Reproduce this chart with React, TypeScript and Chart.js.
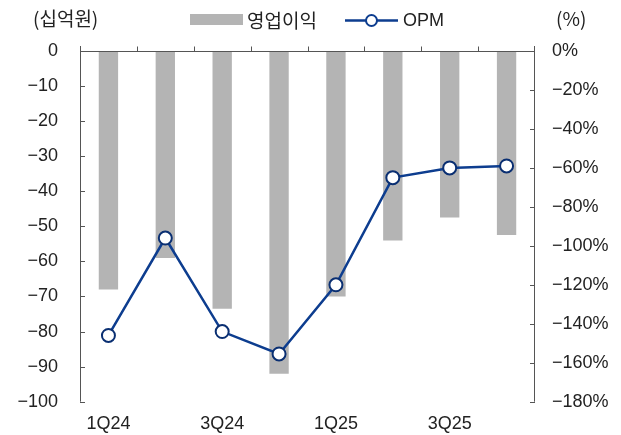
import React, { useEffect, useRef } from "react";
import { Chart, registerables } from "chart.js";

Chart.register(...registerables);

const categories = ["1Q24", "2Q24", "3Q24", "4Q24", "1Q25", "2Q25", "3Q25", "4Q25"];
const operatingProfit = [-68, -59, -73.5, -92, -70, -54, -47.5, -52.5];
const opm = [-146, -96, -144, -155.5, -120, -65, -60, -59];
const leftTicks = { min: -100, max: 0, step: 10 };
const rightTicks = { min: -180, max: 0, step: 20 };

const FONT = "'Liberation Sans', 'Noto Sans CJK KR', sans-serif";
const KFONT = "'Noto Sans CJK KR', sans-serif";
const NAVY = "#0d3d8f";
const BAR = "#b4b4b4";
const AXIS = "#555555";
const TEXT = "#222222";

const fmtNum = (v: number) => (v < 0 ? "\u2212" + Math.abs(v) : String(v));

const axesPlugin = {
  id: "customAxes",
  afterDraw(chart: any) {
    const { ctx, chartArea } = chart;
    const { left, right, top, bottom } = chartArea;
    const y = chart.scales.y;
    const y2 = chart.scales.y2;
    const x = chart.scales.x;
    ctx.save();
    ctx.strokeStyle = AXIS;
    ctx.lineWidth = 1;
    ctx.beginPath();
    ctx.moveTo(Math.round(left) + 0.5, top - 5);
    ctx.lineTo(Math.round(left) + 0.5, bottom);
    ctx.moveTo(Math.round(right) - 0.5, top - 5);
    ctx.lineTo(Math.round(right) - 0.5, bottom);
    const zy = Math.round(y.getPixelForValue(0)) + 0.5;
    ctx.moveTo(left, zy);
    ctx.lineTo(right, zy);
    const n = categories.length;
    for (let i = 1; i < n; i++) {
      const px = Math.round((x.getPixelForValue(i - 1) + x.getPixelForValue(i)) / 2) + 0.5;
      ctx.moveTo(px, zy);
      ctx.lineTo(px, zy - 5);
    }
    for (let v = leftTicks.min; v < leftTicks.max; v += leftTicks.step) {
      const py = Math.round(y.getPixelForValue(v)) + 0.5;
      ctx.moveTo(left, py);
      ctx.lineTo(left + 5, py);
    }
    for (let v = rightTicks.min; v < rightTicks.max; v += rightTicks.step) {
      const py = Math.round(y2.getPixelForValue(v)) + 0.5;
      ctx.moveTo(right, py);
      ctx.lineTo(right - 5, py);
    }
    ctx.stroke();

    ctx.fillStyle = TEXT;
    ctx.textBaseline = "middle";
    ctx.textAlign = "left";
    ctx.font = `19px ${KFONT}`;
    ctx.fillText("(십억원)", 33, 19);
    ctx.fillText("(%)", 556, 19);

    ctx.fillStyle = BAR;
    ctx.fillRect(190, 14, 53, 11);
    ctx.fillStyle = TEXT;
    ctx.font = `19px ${KFONT}`;
    ctx.fillText("영업이익", 247, 21);

    ctx.strokeStyle = NAVY;
    ctx.lineWidth = 2.5;
    ctx.beginPath();
    ctx.moveTo(345, 20.5);
    ctx.lineTo(398, 20.5);
    ctx.stroke();
    ctx.beginPath();
    ctx.arc(371.5, 20.5, 5.5, 0, Math.PI * 2);
    ctx.fillStyle = "#ffffff";
    ctx.fill();
    ctx.lineWidth = 2;
    ctx.stroke();
    ctx.fillStyle = TEXT;
    ctx.font = `18px ${FONT}`;
    ctx.fillText("OPM", 403, 21);
    ctx.restore();
  },
};

export default function App() {
  const ref = useRef<HTMLCanvasElement | null>(null);
  useEffect(() => {
    if (!ref.current) return;
    const chart = new Chart(ref.current, {
      type: "bar",
      data: {
        labels: categories,
        datasets: [
          {
            type: "line",
            label: "OPM",
            data: opm,
            yAxisID: "y2",
            borderColor: NAVY,
            borderWidth: 2.5,
            pointBackgroundColor: "#ffffff",
            pointBorderColor: "#0a2f72",
            pointBorderWidth: 2,
            pointRadius: 6.5,
            tension: 0,
            order: 0,
          } as any,
          {
            type: "bar",
            label: "영업이익",
            data: operatingProfit,
            yAxisID: "y",
            backgroundColor: BAR,
            barPercentage: 0.34,
            categoryPercentage: 1,
            order: 1,
          },
        ],
      },
      options: {
        animation: false,
        responsive: false,
        maintainAspectRatio: false,
        layout: { padding: { top: 51, left: 0, right: 0, bottom: 0 } },
        plugins: { legend: { display: false }, tooltip: { enabled: false } },
        scales: {
          x: {
            position: "bottom",
            offset: true,
            grid: { display: false, drawTicks: false },
            border: { display: false },
            ticks: {
              autoSkip: false,
              maxRotation: 0,
              padding: 12,
              color: TEXT,
              font: { family: FONT, size: 18 },
              callback: (_v: any, i: number) => (i % 2 === 0 ? categories[i] : ""),
            },
            afterFit: (s: any) => {
              s.height = 33.3;
            },
          },
          y: {
            position: "left",
            min: leftTicks.min,
            max: leftTicks.max,
            grid: { display: false, drawTicks: false },
            border: { display: false },
            ticks: {
              stepSize: leftTicks.step,
              padding: 22,
              color: TEXT,
              font: { family: FONT, size: 18 },
              callback: (v: any) => fmtNum(Number(v)),
            },
            afterFit: (s: any) => {
              s.width = 80;
            },
          },
          y2: {
            position: "right",
            min: rightTicks.min,
            max: rightTicks.max,
            grid: { display: false, drawTicks: false },
            border: { display: false },
            ticks: {
              stepSize: rightTicks.step,
              padding: 17,
              color: TEXT,
              font: { family: FONT, size: 18 },
              callback: (v: any) => fmtNum(Number(v)) + "%",
            },
            afterFit: (s: any) => {
              s.width = 86;
            },
          },
        },
      },
      plugins: [axesPlugin],
    });
    return () => chart.destroy();
  }, []);
  return (
    <div style={{ position: "absolute", left: 0, top: 0, width: 621, height: 435, background: "#fff" }}>
      <canvas ref={ref} width={621} height={435} style={{ width: 621, height: 435 }} />
    </div>
  );
}
